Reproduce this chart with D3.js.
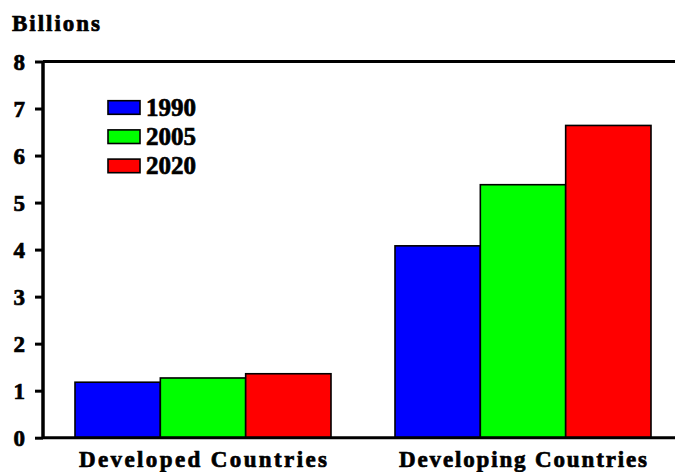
<!DOCTYPE html>
<html>
<head>
<meta charset="utf-8">
<script src="https://cdn.jsdelivr.net/npm/d3@7"></script>
<style>
  html, body { margin: 0; padding: 0; background: #fff; }
  svg { display: block; }
  text {
    font-family: "Liberation Serif", "DejaVu Serif", serif;
    font-weight: bold;
    fill: #000;
    stroke: #000;
    stroke-width: 0.7px;
  }
</style>
</head>
<body>
<svg id="chart" width="675" height="472"></svg>
<script>
// Population (billions) by country group and year
const categories = ["Developed Countries", "Developing Countries"];
const years = ["1990", "2005", "2020"];
const population1990 = [1.18, 4.08];
const population2005 = [1.27, 5.38];
const population2020 = [1.36, 6.64];
const yTicks = [0, 1, 2, 3, 4, 5, 6, 7, 8];
const colors = ["#0000ff", "#00ff00", "#ff0000"];

const seriesValues = [population1990, population2005, population2020];
const serif = "'Liberation Serif', 'DejaVu Serif', serif";

const svg = d3.select("#chart");
const plotLeft = 43, plotRight = 683, plotTop = 61.5, plotBottom = 437.7;

const x = d3.scaleBand().domain(categories).range([plotLeft, plotRight])
  .paddingInner(0.2).paddingOuter(0.1);
const xs = d3.scaleBand().domain(years).range([0, x.bandwidth()]);
const y = d3.scaleLinear().domain([0, 8]).range([plotBottom, plotTop]);

// Bars
const groups = svg.append("g").selectAll("g")
  .data(categories)
  .join("g")
  .attr("transform", d => `translate(${x(d)},0)`);

groups.selectAll("rect")
  .data((c, ci) => years.map((yr, yi) => ({ yr, yi, v: seriesValues[yi][ci] })))
  .join("rect")
  .attr("x", d => xs(d.yr))
  .attr("width", xs.bandwidth())
  .attr("y", d => y(d.v))
  .attr("height", d => y(0) - y(d.v))
  .attr("fill", d => colors[d.yi])
  .attr("stroke", "#000")
  .attr("stroke-width", 1.6);

// Frame: top and bottom lines run to the right edge
svg.append("line").attr("x1", plotLeft).attr("x2", plotRight).attr("y1", y(8)).attr("y2", y(8))
  .attr("stroke", "#000").attr("stroke-width", 3);
svg.append("line").attr("x1", plotLeft).attr("x2", plotRight).attr("y1", y(0)).attr("y2", y(0))
  .attr("stroke", "#000").attr("stroke-width", 3);

// Y axis
const yAxis = d3.axisLeft(y).tickValues(yTicks).tickSize(8).tickPadding(10).tickFormat(d3.format("d"));
const ya = svg.append("g").attr("transform", `translate(${plotLeft},0)`).call(yAxis);
ya.select(".domain").attr("stroke", "#000").attr("stroke-width", 3.5)
  .attr("d", `M0,${y(0)}V${y(8)}`);
ya.selectAll(".tick line").attr("stroke", "#000").attr("stroke-width", 3);
ya.attr("font-family", serif).attr("font-size", 23);
ya.selectAll(".tick text")
  .attr("dy", "0.34em")
  .style("font-family", serif)
  .style("font-size", "23px")
  .style("font-weight", "bold");

// Category labels
svg.append("g").selectAll("text")
  .data(categories)
  .join("text")
  .attr("x", d => x(d) + x.bandwidth() / 2)
  .attr("y", 467)
  .attr("text-anchor", "middle")
  .style("font-size", "23px")
  .attr("textLength", 248)
  .attr("lengthAdjust", "spacing")
  .text(d => d);

// Unit label
svg.append("text")
  .attr("x", 12).attr("y", 31)
  .style("font-size", "23px")
  .attr("textLength", 88)
  .attr("lengthAdjust", "spacing")
  .text("Billions");

// Legend
const legend = svg.append("g").selectAll("g")
  .data(years)
  .join("g")
  .attr("transform", (d, i) => `translate(108,${100.7 + i * 29.2})`);
legend.append("rect")
  .attr("width", 32).attr("height", 13.6)
  .attr("fill", (d, i) => colors[i])
  .attr("stroke", "#000").attr("stroke-width", 1.6)
  .style("stroke-width", "1.6px");
legend.append("text")
  .attr("x", 38).attr("y", 15)
  .style("font-size", "25px")
  .attr("textLength", 50)
  .attr("lengthAdjust", "spacing")
  .text(d => d);
</script>
</body>
</html>
